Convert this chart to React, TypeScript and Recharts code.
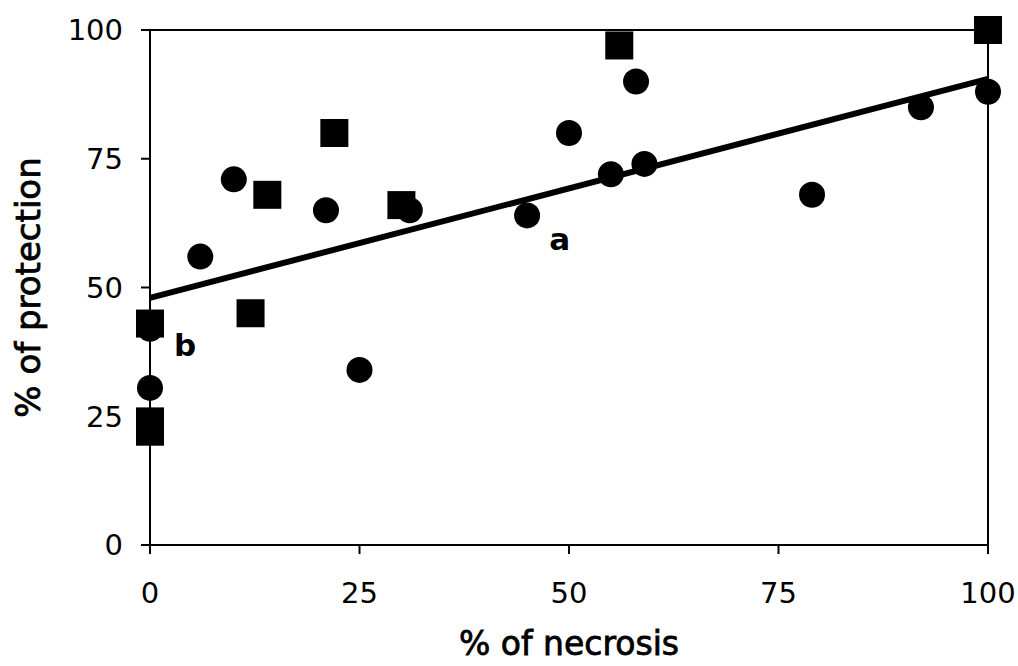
import React from "react"
import {
  ScatterChart,
  Scatter,
  XAxis,
  YAxis,
  ReferenceLine,
  ReferenceDot,
} from "recharts"

// circles (one series) and squares (the other)
const circleNecrosis = [0, 0, 6, 10, 21, 25, 31, 45, 50, 55, 58, 59, 79, 92, 100]
const circleProtection = [30.5, 42, 56, 71, 65, 34, 65, 64, 80, 72, 90, 74, 68, 85, 88]

const squareNecrosis = [0, 0, 0, 12, 14, 22, 30, 56, 100]
const squareProtection = [43, 24, 22, 45, 68, 80, 66, 97, 100]

// fitted line end points
const fitStart = { x: 0, y: 48 }
const fitEnd = { x: 100, y: 90.5 }

const ticks = [0, 25, 50, 75, 100]

const notes = [
  { x: 48.9, y: 59.4, text: "a" },
  { x: 4.2, y: 38.8, text: "b" },
]

const circles = circleNecrosis.map((x, i) => ({ x, y: circleProtection[i] }))
const squares = squareNecrosis.map((x, i) => ({ x, y: squareProtection[i] }))

const font = "'DejaVu Sans', sans-serif"

const Circle = (props: any) => <circle cx={props.cx} cy={props.cy} r={13} fill="#000" />
const Square = (props: any) => (
  <rect x={props.cx - 14} y={props.cy - 14} width={28} height={28} fill="#000" />
)

const NoteLabel = (text: string) => (props: any) => {
  const { viewBox } = props
  return (
    <text
      x={viewBox.cx ?? viewBox.x}
      y={viewBox.cy ?? viewBox.y}
      textAnchor="middle"
      dominantBaseline="central"
      fontFamily={font}
      fontWeight={700}
      fontSize={31}
      fill="#000"
    >
      {text}
    </text>
  )
}

export default function App() {
  return (
    <div style={{ position: "absolute", left: 0, top: 0, background: "#fff" }}>
      <ScatterChart
        width={1018}
        height={666}
        margin={{ top: 30, right: 30, bottom: 0, left: 0 }}
      >
        <XAxis
          type="number"
          dataKey="x"
          domain={[0, 100]}
          ticks={ticks}
          height={121}
          tickSize={9}
          tickMargin={28}
          axisLine={{ stroke: "#000", strokeWidth: 2 }}
          tickLine={{ stroke: "#000", strokeWidth: 2 }}
          tick={{ fill: "#000", fontSize: 29, fontFamily: font }}
          label={{
            value: "% of necrosis",
            position: "insideBottom",
            offset: 11,
            fill: "#000",
            stroke: "#000",
            strokeWidth: 0.8,
            fontSize: 33,
            fontFamily: font,
          }}
        />
        <YAxis
          type="number"
          dataKey="y"
          domain={[0, 100]}
          ticks={ticks}
          width={150}
          tickSize={9}
          tickMargin={18}
          axisLine={{ stroke: "#000", strokeWidth: 2 }}
          tickLine={{ stroke: "#000", strokeWidth: 2 }}
          tick={{ fill: "#000", fontSize: 29, fontFamily: font }}
          label={{
            value: "% of protection",
            angle: -90,
            position: "insideLeft",
            offset: 28,
            fill: "#000",
            stroke: "#000",
            strokeWidth: 0.8,
            fontSize: 34,
            fontFamily: font,
            style: { textAnchor: "middle" },
          }}
        />
        <ReferenceLine y={100} stroke="#000" strokeWidth={2} />
        <ReferenceLine x={100} stroke="#000" strokeWidth={2} />
        <ReferenceLine segment={[fitStart, fitEnd]} stroke="#000" strokeWidth={6} />
        <Scatter data={circles} shape={Circle} isAnimationActive={false} />
        <Scatter data={squares} shape={Square} isAnimationActive={false} />
        {notes.map((n) => (
          <ReferenceDot
            key={n.text}
            x={n.x}
            y={n.y}
            r={0}
            fill="none"
            stroke="none"
            label={NoteLabel(n.text)}
          />
        ))}
      </ScatterChart>
    </div>
  )
}
